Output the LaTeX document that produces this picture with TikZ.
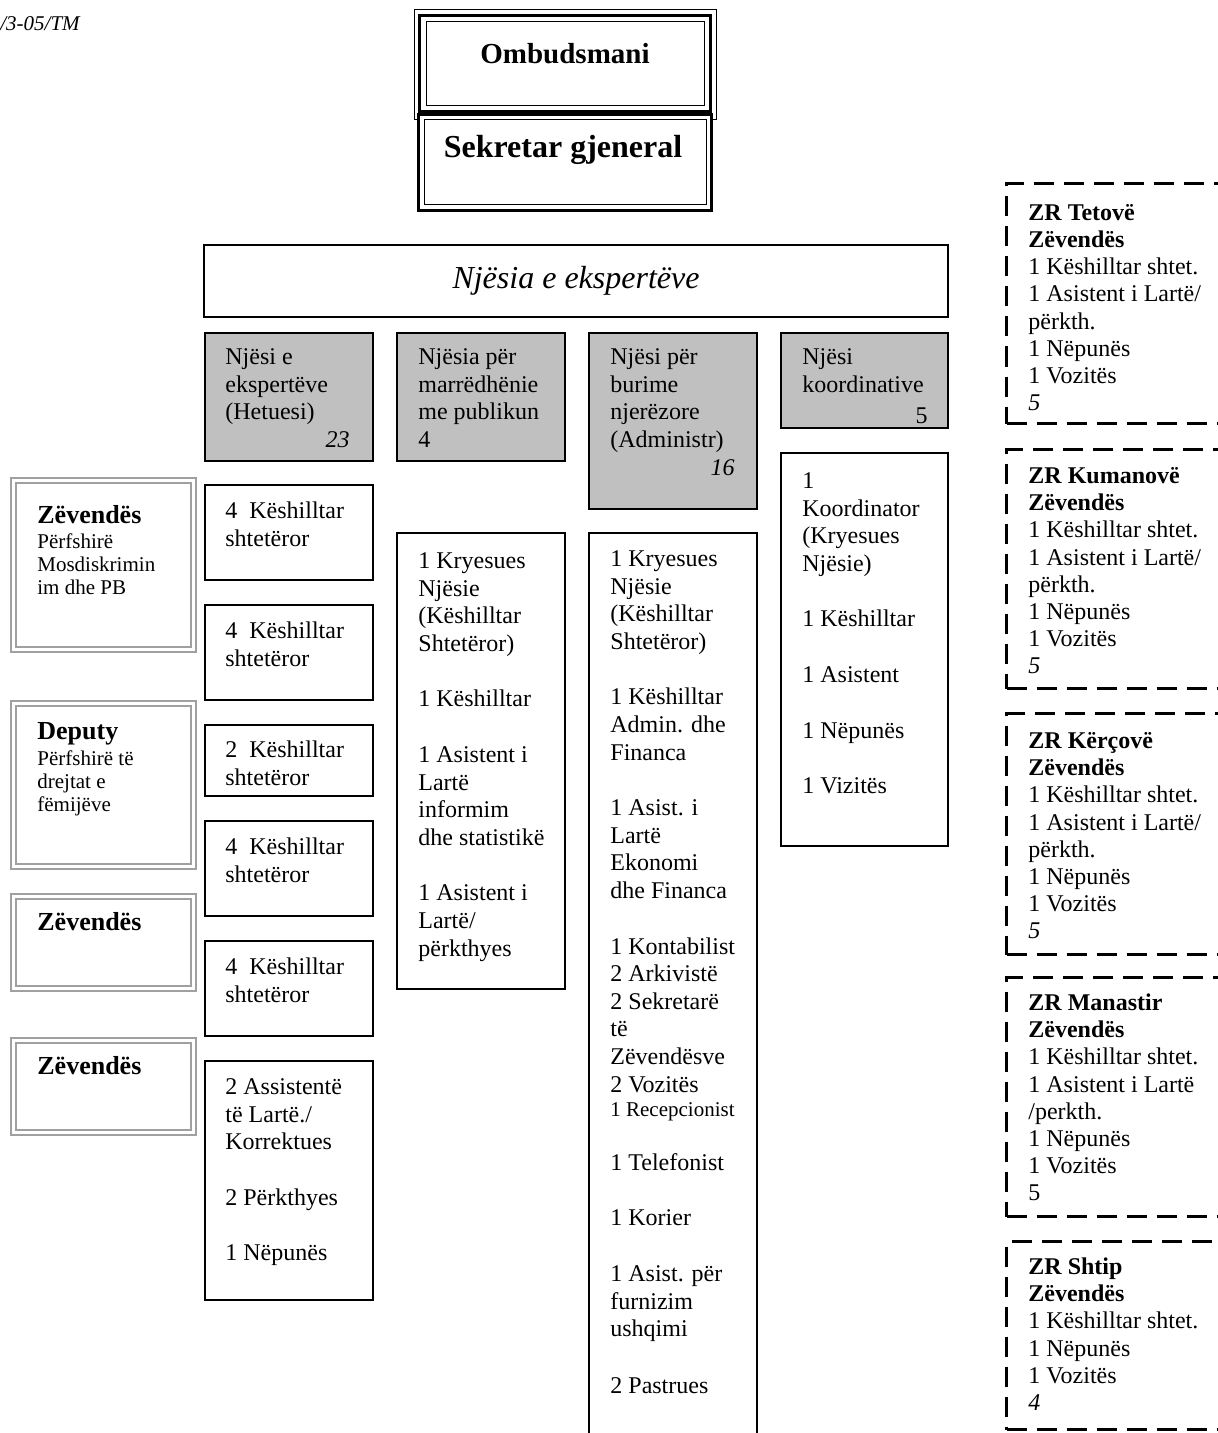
\documentclass[tikz,border=0pt]{standalone}
\usepackage{fontspec}
\setmainfont{Liberation Serif}
\usetikzlibrary{fit}
\definecolor{hdrgray}{HTML}{C0C0C0}
\definecolor{framegray}{HTML}{A0A0A0}
\newcommand\mytop{\rule{0pt}{10pt}}
\tikzset{
  unitbox/.style={draw=black, line width=1pt, inner sep=0pt},
  hdrbox/.style={unitbox, fill=hdrgray},
  sidebox/.style={draw=framegray, line width=1pt, double=white, double distance=1.5pt, inner sep=0pt},
  zrbox/.style={draw=black, line width=1.5pt, dash pattern=on 10pt off 5pt, inner sep=0pt},
  txt/.style={anchor=north west, inner sep=0pt, align=left, font=\fontsize{12}{13.8}\selectfont},
  zrtxt/.style={txt, font=\fontsize{12}{13.6}\selectfont},
  sidetitle/.style={anchor=base west, inner sep=0pt, font=\fontsize{13}{15}\selectfont\bfseries},
  sidesub/.style={txt, font=\fontsize{10.5}{11.5}\selectfont},
  num/.style={anchor=base east, inner sep=0pt, font=\fontsize{12}{13.8}\selectfont\itshape},
}
\begin{document}
\begin{tikzpicture}[x=0.5pt,y=-0.5pt]
\useasboundingbox (0,0) rectangle (1218,1433);
\clip (0,0) rectangle (1218,1433);
\fill[white] (0,0) rectangle (1218,1433);

% reference mark
\node[anchor=base west, inner sep=0pt, font=\fontsize{10.5}{12}\selectfont\itshape] (ref) at (0,31) {/3-05/TM};

% Ombudsmani
\node[fit={(414,10)(716,120)}, inner sep=0pt, draw, line width=0.5pt] (omb) {};
\draw[line width=1.5pt] (419.5,15.5) rectangle (710.5,112);
\draw[line width=0.5pt] (426,22) rectangle (704,106);
\node[anchor=base, inner sep=0pt, font=\fontsize{14.5}{16}\selectfont\bfseries] (ombt) at (565,64) {Ombudsmani};

% Sekretar gjeneral
\node[fit={(418.5,114.5)(711.5,210.5)}, inner sep=0pt, draw, fill=white, line width=1.5pt] (sek) {};
\draw[line width=0.5pt] (424,120) rectangle (706,205);
\node[anchor=base, inner sep=0pt, font=\fontsize{16}{18}\selectfont\bfseries] (sekt) at (563,158) {Sekretar gjeneral};

% Njesia e ekspertеve
\node[unitbox, fit={(204,245)(948,317)}] (nje) {};
\node[anchor=base, inner sep=0pt, font=\fontsize{16}{18}\selectfont\itshape] (njet) at (576,289) {Njësia e ekspertëve};

% header boxes
\node[hdrbox, fit={(205,333)(373,461)}] (h1) {};
\node[txt] (h1t) at (225,344) {\mytop Njësi e\\ekspertëve\\(Hetuesi)};
\node[num] (h1n) at (350,447) {23};

\node[hdrbox, fit={(397,333)(565,461)}] (h2) {};
\node[txt] (h2t) at (418,344) {\mytop Njësia për\\marrëdhënie\\me publikun\\4};

\node[hdrbox, fit={(589,333)(757,509)}] (h3) {};
\node[txt] (h3t) at (610,344) {\mytop Njësi për\\burime\\njerëzore\\(Administr)};
\node[num] (h3n) at (735,475) {16};

\node[hdrbox, fit={(781,333)(948,428)}] (h4) {};
\node[txt] (h4t) at (802,344) {\mytop Njësi\\koordinative};
\node[num, font=\fontsize{12}{13.8}\selectfont] (h4n) at (928,423) {5};

% column 1
\node[unitbox, fit={(205,485)(373,580)}] (c1a) {};
\node[txt] (c1at) at (225,498) {\mytop 4\ \ Këshilltar\\shtetëror};
\node[unitbox, fit={(205,605)(373,700)}] (c1b) {};
\node[txt] (c1bt) at (225,618) {\mytop 4\ \ Këshilltar\\shtetëror};
\node[unitbox, fit={(205,725)(373,796)}] (c1c) {};
\node[txt] (c1ct) at (225,737) {\mytop 2\ \ Këshilltar\\shtetëror};
\node[unitbox, fit={(205,821)(373,916)}] (c1d) {};
\node[txt] (c1dt) at (225,834) {\mytop 4\ \ Këshilltar\\shtetëror};
\node[unitbox, fit={(205,941)(373,1036)}] (c1e) {};
\node[txt] (c1et) at (225,954) {\mytop 4\ \ Këshilltar\\shtetëror};
\node[unitbox, fit={(205,1061)(373,1300)}] (c1f) {};
\node[txt] (c1ft) at (225,1074) {\mytop 2 Assistentë\\të Lartë./\\Korrektues\\[14pt]2 Përkthyes\\[14pt]1 Nëpunës};

% column 2
\node[unitbox, fit={(397,533)(565,989)}] (c2) {};
\node[txt] (c2t) at (418,548) {\mytop 1 Kryesues\\Njësie\\(Këshilltar\\Shtetëror)\\[14pt]1 Këshilltar\\[14pt]1 Asistent i\\Lartë\\informim\\dhe statistikë\\[14pt]1 Asistent i\\Lartë/\\përkthyes};

% column 3 (open at the bottom)
\node[inner sep=0pt, fit={(589,533)(757,1460)}] (c3) {};
\draw[line width=1pt] (c3.south west) |- (c3.north east) -- (c3.south east);
\node[txt] (c3t) at (610,546) {\mytop 1 Kryesues\\Njësie\\(Këshilltar\\Shtetëror)\\[14pt]1 Këshilltar\\Admin. dhe\\Financa\\[14pt]1 Asist. i\\Lartë\\Ekonomi\\dhe Financa\\[14pt]1 Kontabilist\\2 Arkivistë\\2 Sekretarë\\të\\Zëvendësve\\2 Vozitës\\[-1.5pt]{\fontsize{10.5}{12}\selectfont 1 Recepcionist}\\[13pt]1 Telefonist\\[14pt]1 Korier\\[14pt]1 Asist. për\\furnizim\\ushqimi\\[14.5pt]2 Pastrues};

% column 4
\node[unitbox, fit={(781,453)(948,846)}] (c4) {};
\node[txt] (c4t) at (802,468) {\mytop 1\\Koordinator\\(Kryesues\\Njësie)\\[14pt]1 Këshilltar\\[14pt]1 Asistent\\[14pt]1 Nëpunës\\[14pt]1 Vizitës};

% left side boxes
\node[sidebox, fit={(13.5,480.5)(193.5,649.5)}] (s1) {};
\node[sidetitle] (s1t) at (37,523) {Zëvendës};
\node[sidesub] (s1s) at (37,528) {\mytop Përfshirë\\Mosdiskrimin\\im dhe PB};

\node[sidebox, fit={(13.5,703.5)(193.5,866.5)}] (s2) {};
\node[sidetitle] (s2t) at (37,739) {Deputy};
\node[sidesub] (s2s) at (37,745) {\mytop Përfshirë të\\drejtat e\\fëmijëve};

\node[sidebox, fit={(13.5,896.5)(193.5,988.5)}] (s3) {};
\node[sidetitle] (s3t) at (37,930) {Zëvendës};

\node[sidebox, fit={(13.5,1040.5)(193.5,1132.5)}] (s4) {};
\node[sidetitle] (s4t) at (37,1074) {Zëvendës};

% regional offices (dashed)
\node[zrbox, fit={(1006.5,183.5)(1240,423.5)}] (zr1) {};
\node[zrtxt] (zr1t) at (1028,200) {\mytop\textbf{ZR Tetovë}\\\textbf{Zëvendës}\\1 Këshilltar shtet.\\1 Asistent i Lartë/\\përkth.\\1 Nëpunës\\1 Vozitës\\\textit{5}};

\node[zrbox, fit={(1006.5,449.5)(1240,688.5)}] (zr2) {};
\node[zrtxt] (zr2t) at (1028,463) {\mytop\textbf{ZR Kumanovë}\\\textbf{Zëvendës}\\1 Këshilltar shtet.\\1 Asistent i Lartë/\\përkth.\\1 Nëpunës\\1 Vozitës\\\textit{5}};

\node[zrbox, fit={(1006.5,713.5)(1240,954.5)}] (zr3) {};
\node[zrtxt] (zr3t) at (1028,728) {\mytop\textbf{ZR Kërçovë}\\\textbf{Zëvendës}\\1 Këshilltar shtet.\\1 Asistent i Lartë/\\përkth.\\1 Nëpunës\\1 Vozitës\\\textit{5}};

\node[zrbox, fit={(1006.5,977.5)(1240,1216.5)}] (zr4) {};
\node[zrtxt] (zr4t) at (1028,990) {\mytop\textbf{ZR Manastir}\\\textbf{Zëvendës}\\1 Këshilltar shtet.\\1 Asistent i Lartë\\/perkth.\\1 Nëpunës\\1 Vozitës\\5};

\node[zrbox, fit={(1006.5,1241.5)(1240,1429.5)}] (zr5) {};
\node[zrtxt] (zr5t) at (1028,1254) {\mytop\textbf{ZR Shtip}\\\textbf{Zëvendës}\\1 Këshilltar shtet.\\1 Nëpunës\\1 Vozitës\\\textit{4}};
\end{tikzpicture}
\end{document}
